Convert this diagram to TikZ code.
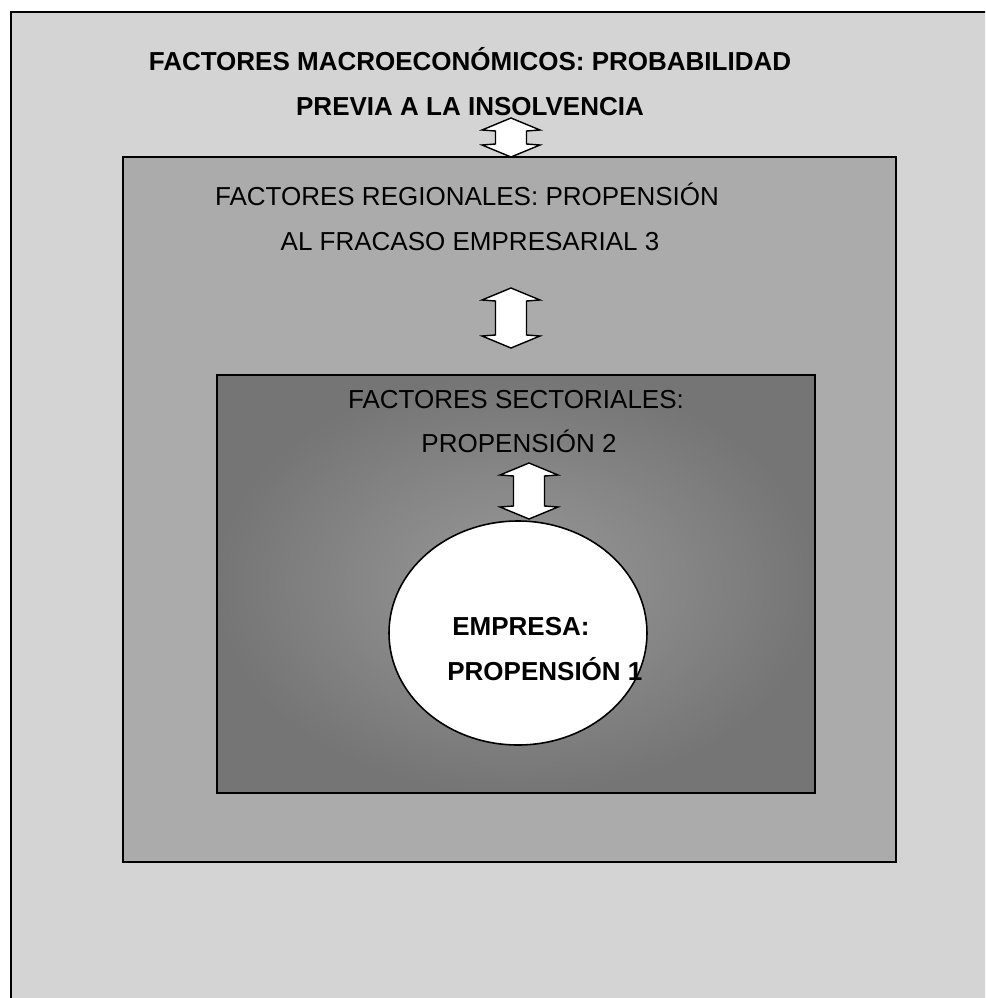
\documentclass[tikz,border=0pt]{standalone}
\usepackage{fontspec}
\setmainfont{Liberation Sans}
\usetikzlibrary{positioning}

\begin{document}
\begin{tikzpicture}[
    x=0.02cm,y=-0.02cm,
    lbl/.style={inner sep=0pt,anchor=base,font=\fontsize{14.8pt}{18pt}\selectfont},
    boldlbl/.style={lbl,font=\fontsize{14.8pt}{18pt}\selectfont\bfseries},
    frame/.style={draw=black,line width=0.9pt},
    updown/.pic={
      \draw[line width=0.8pt,fill=white]
        (0,0) -- (29,12) -- (15.5,13) -- (15.5,#1-13) -- (29,#1-12) -- (0,#1)
        -- (-29,#1-12) -- (-15.5,#1-13) -- (-15.5,13) -- (-29,12) -- cycle;
    }
  ]
    \clip (0,0) rectangle (985,998);

    % outer level: macro factors
    \fill[white] (0,0) rectangle (985,998);
    \draw[frame,fill=black!17] (11,12) rectangle (990,1004);

    % regional box
    \draw[frame,line width=1.1pt,fill=black!33] (123,157) rectangle (896,862);

    % sectoral box
    \shade[inner color=black!40,outer color=black!54] (217,375) rectangle (815,793);
    \draw[frame,line width=1.1pt] (217,375) rectangle (815,793);

    % firm
    \draw[line width=0.9pt,fill=white] (518,633) ellipse [x radius=129,y radius=112];

    \node[boldlbl] (macro1) at (470,70) {FACTORES MACROECONÓMICOS: PROBABILIDAD};
    \node[boldlbl] (macro2) at (470,115) {PREVIA A LA INSOLVENCIA};

    \node[lbl] (reg1) at (467,205) {FACTORES REGIONALES: PROPENSIÓN};
    \node[lbl] (reg2) at (470,250) {AL FRACASO EMPRESARIAL 3};

    \node[lbl] (sec1) at (516,408) {FACTORES SECTORIALES:};
    \node[lbl] (sec2) at (519,452) {PROPENSIÓN 2};

    \node[boldlbl,anchor=base west] (emp1) at (452,635) {EMPRESA:};
    \node[boldlbl,anchor=base west] (emp2) at (447,680) {PROPENSIÓN 1};

    \pic at (511,118) {updown=39};
    \pic at (511,288) {updown=60};
    \pic at (529,463) {updown=56};
  \end{tikzpicture}
\end{document}
